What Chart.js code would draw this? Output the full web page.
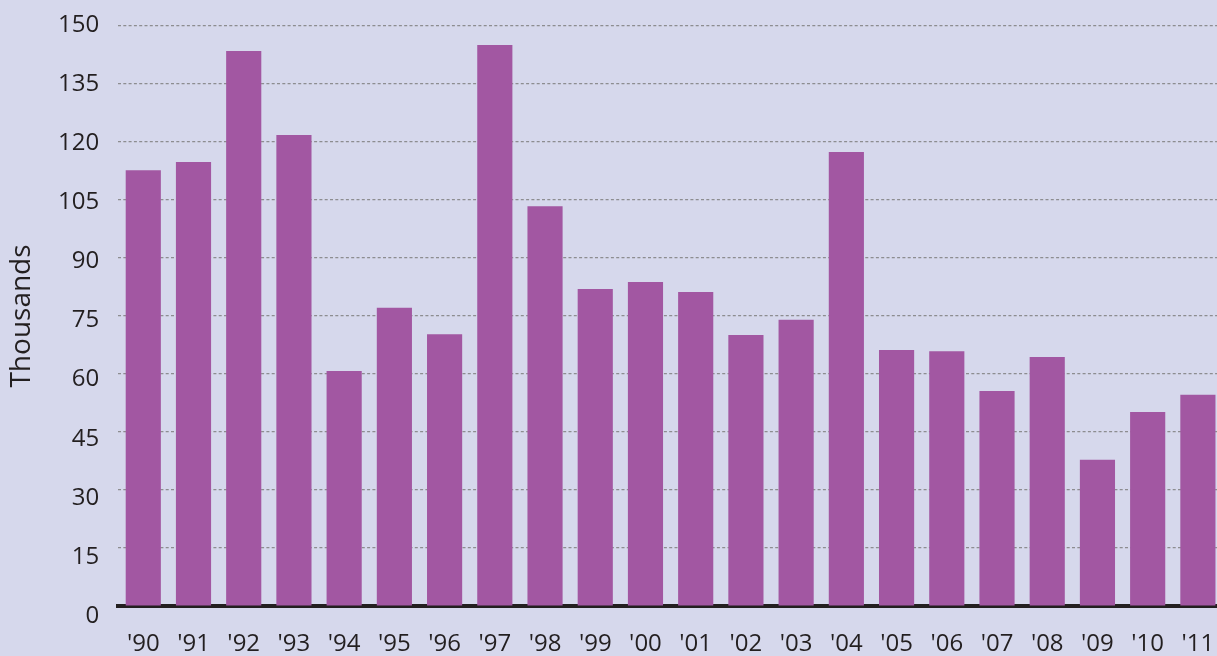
<!DOCTYPE html>
<html>
<head>
<meta charset="utf-8">
<script src="https://cdn.jsdelivr.net/npm/chart.js@4.4.1/dist/chart.umd.min.js"></script>
<style>
    html, body { margin: 0; padding: 0; overflow: hidden; background: #d6d8ec; }
    #caja { position: relative; width: 1223px; height: 682px; }
</style>
</head>
<body>
<div id="caja"><canvas id="grafico"></canvas></div>
<script>
// Años y valores (miles)
var anios = ["'90", "'91", "'92", "'93", "'94", "'95", "'96", "'97", "'98", "'99", "'00",
             "'01", "'02", "'03", "'04", "'05", "'06", "'07", "'08", "'09", "'10", "'11"];
var valores = [112.7, 114.8, 143.5, 121.8, 60.8, 77.1, 70.3, 145.1, 103.4, 82.0, 83.8,
               81.2, 70.1, 74.0, 117.4, 66.2, 65.9, 55.6, 64.4, 37.8, 50.2, 54.6];
var eje_min = 0;
var eje_max = 150;
var eje_paso = 15;
var marcas_y = [0, 15, 30, 45, 60, 75, 90, 105, 120, 135, 150];

var colorTexto = '#231f20';
var fuente = "'Open Sans', 'Noto Sans', sans-serif";

var ctx = document.getElementById("grafico").getContext("2d");

var myChart = new Chart(ctx, {
    type: 'bar',
    data: {
        labels: anios,
        datasets: [{
            label: 'Thousands',
            data: valores,
            yAxisID: 'y',
            backgroundColor: '#a257a2',
            borderWidth: 0,
            barPercentage: 0.7,
            categoryPercentage: 1
        }]
    },
    options: {
        responsive: true,
        maintainAspectRatio: false,
        animation: false,
        layout: {
            padding: 0
        },
        plugins: {
            legend: { display: false },
            tooltip: { enabled: false }
        },
        scales: {
            x: {
                grid: { display: false, drawTicks: false },
                border: { display: true, color: colorTexto, width: 4 },
                ticks: {
                    color: colorTexto,
                    padding: 0,
                    // el alto de línea baja las etiquetas sin añadir relleno lateral
                    font: { family: fuente, size: 24, lineHeight: 76 / 24 }
                }
            },
            // eje de las barras: solo las líneas punteadas
            y: {
                min: eje_min,
                max: eje_max,
                grid: {
                    drawTicks: false,
                    color: function (c) { return c.tick.value === 0 ? 'rgba(0,0,0,0)' : 'rgba(128,128,128,0.85)'; },
                    lineWidth: 1.2
                },
                border: { display: false, dash: [3, 2.3] },
                ticks: { display: false, stepSize: eje_paso }
            },
            // eje de los rótulos: las cifras van algo más espaciadas que las líneas
            yRotulos: {
                position: 'left',
                min: 2.54,
                max: 149.78,
                grid: { display: false, drawTicks: false },
                border: { display: false },
                afterBuildTicks: function (eje) {
                    eje.ticks = marcas_y.map(function (v) { return { value: v }; });
                },
                ticks: {
                    color: colorTexto,
                    padding: 19,
                    font: { family: fuente, size: 24, lineHeight: 0.58 }
                },
                title: {
                    display: true,
                    text: 'Thousands',
                    color: colorTexto,
                    padding: { top: 5.2, bottom: 0.2 },
                    font: { family: fuente, size: 28 }
                }
            }
        }
    }
});
</script>
</body>
</html>
